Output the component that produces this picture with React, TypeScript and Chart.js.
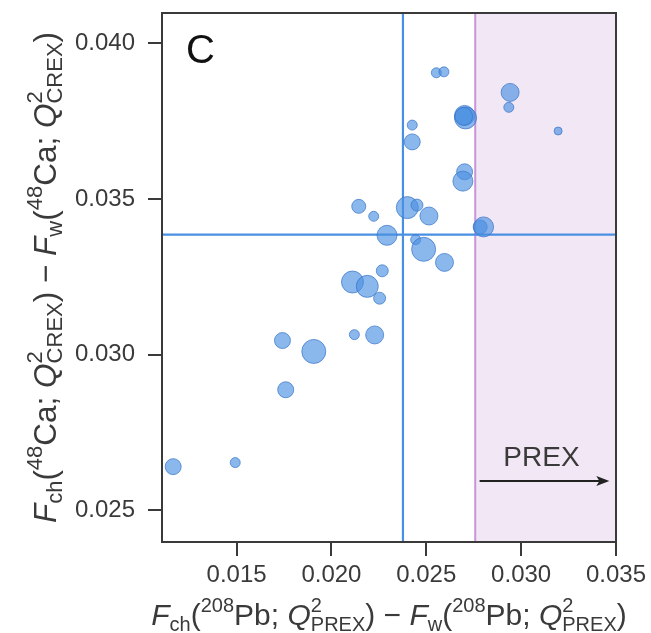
import React, { useEffect, useRef } from "react";
import { Chart, registerables } from "chart.js";

Chart.register(...registerables);

// ---- data ----
const xValues = [
  0.01166, 0.01493, 0.01742, 0.01907, 0.01759, 0.02144, 0.02223, 0.024, 0.02451, 0.02514,
  0.02293, 0.02784, 0.02802, 0.02444, 0.02486, 0.02596, 0.02268, 0.02111, 0.02189, 0.02254,
  0.02121, 0.02228, 0.02553, 0.02593, 0.02702, 0.02707, 0.02697, 0.02426, 0.02426, 0.02702,
  0.02693, 0.02942, 0.02935, 0.03195,
];
const yValues = [
  0.0264, 0.02653, 0.03045, 0.0301, 0.02887, 0.03476, 0.03444, 0.03472, 0.0348, 0.03445,
  0.03383, 0.0341, 0.0341, 0.03369, 0.03338, 0.03296, 0.03269, 0.03233, 0.03219, 0.03181,
  0.03064, 0.03063, 0.03905, 0.03908, 0.03768, 0.0376, 0.03765, 0.03737, 0.03683, 0.03587,
  0.03557, 0.03842, 0.03794, 0.03718,
];
const sizes = [
  8, 5, 8, 12, 8, 7, 5, 11, 6, 9,
  10, 7, 10, 5, 12, 9, 6, 11, 11, 6,
  5, 9, 5, 5, 10, 11, 9, 5, 8, 8,
  10, 9, 5, 4,
];
const xTicks = [0.015, 0.02, 0.025, 0.03, 0.035];
const yTicks = [0.025, 0.03, 0.035, 0.04];
const xMin = 0.01107;
const xMax = 0.035;
const yMin = 0.02398;
const yMax = 0.04097;
const refX = 0.02377;
const refY = 0.03385;
const prexMin = 0.02758;
const panelLabel = "C";
const bandLabel = "PREX";
const bandLabelX = 0.03107;
const bandLabelY = 0.02643;
const arrowFromX = 0.02781;
const arrowToX = 0.03465;
const arrowY = 0.02594;

type Seg = { t: string; k: "n" | "i" | "sub" | "sup" | "ss"; sub?: string };

const xTitle: Seg[] = [
  { t: "F", k: "i" }, { t: "ch", k: "sub" }, { t: "(", k: "n" }, { t: "208", k: "sup" },
  { t: "Pb; ", k: "n" }, { t: "Q", k: "i" }, { t: "2", k: "ss", sub: "PREX" },
  { t: ") \u2212 ", k: "n" }, { t: "F", k: "i" }, { t: "w", k: "sub" }, { t: "(", k: "n" },
  { t: "208", k: "sup" }, { t: "Pb; ", k: "n" }, { t: "Q", k: "i" },
  { t: "2", k: "ss", sub: "PREX" }, { t: ")", k: "n" },
];
const yTitle: Seg[] = [
  { t: "F", k: "i" }, { t: "ch", k: "sub" }, { t: "(", k: "n" }, { t: "48", k: "sup" },
  { t: "Ca; ", k: "n" }, { t: "Q", k: "i" }, { t: "2", k: "ss", sub: "CREX" },
  { t: ") \u2212 ", k: "n" }, { t: "F", k: "i" }, { t: "w", k: "sub" }, { t: "(", k: "n" },
  { t: "48", k: "sup" }, { t: "Ca; ", k: "n" }, { t: "Q", k: "i" },
  { t: "2", k: "ss", sub: "CREX" }, { t: ")", k: "n" },
];

const FAMILY = "'Liberation Sans', Arial, sans-serif";
const TEXT = "#3a3a3a";

function drawRich(
  ctx: CanvasRenderingContext2D,
  segs: Seg[],
  cx: number,
  baseY: number,
  main: number,
  small: number
) {
  const f = (size: number, it: boolean) => `${it ? "italic " : ""}${size}px ${FAMILY}`;
  const items = segs.map((s) => {
    if (s.k === "ss") {
      ctx.font = f(small, false);
      return { s, w: Math.max(ctx.measureText(s.t).width, ctx.measureText(s.sub || "").width) };
    }
    const size = s.k === "sub" || s.k === "sup" ? small : main;
    ctx.font = f(size, s.k === "i");
    return { s, w: ctx.measureText(s.t).width };
  });
  const total = items.reduce((a, b) => a + b.w, 0);
  let x = cx - total / 2;
  ctx.fillStyle = TEXT;
  ctx.textAlign = "left";
  ctx.textBaseline = "alphabetic";
  const supDy = -main * 0.45;
  const subDy = main * 0.2;
  for (const { s, w } of items) {
    if (s.k === "ss") {
      ctx.font = f(small, false);
      ctx.fillText(s.t, x, baseY + supDy);
      ctx.fillText(s.sub || "", x, baseY + subDy);
    } else if (s.k === "sub") {
      ctx.font = f(small, false);
      ctx.fillText(s.t, x, baseY + subDy);
    } else if (s.k === "sup") {
      ctx.font = f(small, false);
      ctx.fillText(s.t, x, baseY + supDy);
    } else {
      ctx.font = f(main, s.k === "i");
      ctx.fillText(s.t, x, baseY);
    }
    x += w;
  }
}

const decor = {
  id: "decor",
  beforeDatasetsDraw(chart: any) {
    const { ctx, chartArea, scales } = chart;
    const { top, bottom, left, right } = chartArea;
    const xs = scales.x;
    const ys = scales.y;
    const px = xs.getPixelForValue(prexMin);
    ctx.save();
    ctx.fillStyle = "#f2e7f5";
    ctx.fillRect(px, top, right - px, bottom - top);
    ctx.strokeStyle = "#c994d8";
    ctx.lineWidth = 2;
    ctx.beginPath();
    ctx.moveTo(px, top);
    ctx.lineTo(px, bottom);
    ctx.stroke();
    ctx.strokeStyle = "#4a90e2";
    ctx.lineWidth = 2.2;
    const vx = xs.getPixelForValue(refX);
    const hy = ys.getPixelForValue(refY);
    ctx.beginPath();
    ctx.moveTo(vx, top);
    ctx.lineTo(vx, bottom);
    ctx.moveTo(left, hy);
    ctx.lineTo(right, hy);
    ctx.stroke();
    ctx.restore();
  },
  afterDatasetsDraw(chart: any) {
    const { ctx, chartArea, scales } = chart;
    const { top, bottom, left, right } = chartArea;
    const xs = scales.x;
    const ys = scales.y;
    ctx.save();
    ctx.strokeStyle = "#3a3a3a";
    ctx.lineWidth = 2;
    ctx.strokeRect(left, top, right - left, bottom - top);
    ctx.fillStyle = "#111";
    ctx.font = `40px ${FAMILY}`;
    ctx.textAlign = "left";
    ctx.textBaseline = "alphabetic";
    ctx.fillText(panelLabel, left + 24, top + 50);
    ctx.fillStyle = TEXT;
    ctx.font = `28px ${FAMILY}`;
    ctx.textAlign = "center";
    ctx.fillText(bandLabel, xs.getPixelForValue(bandLabelX), ys.getPixelForValue(bandLabelY));
    const ax0 = xs.getPixelForValue(arrowFromX);
    const ax1 = xs.getPixelForValue(arrowToX);
    const ay = ys.getPixelForValue(arrowY);
    ctx.strokeStyle = "#222";
    ctx.fillStyle = "#222";
    ctx.lineWidth = 2;
    ctx.beginPath();
    ctx.moveTo(ax0, ay);
    ctx.lineTo(ax1 - 8, ay);
    ctx.stroke();
    ctx.beginPath();
    ctx.moveTo(ax1, ay);
    ctx.lineTo(ax1 - 13, ay - 5);
    ctx.lineTo(ax1 - 10, ay);
    ctx.lineTo(ax1 - 13, ay + 5);
    ctx.closePath();
    ctx.fill();
    ctx.restore();
  },
  afterDraw(chart: any) {
    const { ctx, chartArea } = chart;
    const { top, bottom, left, right } = chartArea;
    ctx.save();
    drawRich(ctx, xTitle, (left + right) / 2, 625, 30, 20);
    ctx.translate(56, (top + bottom) / 2);
    ctx.rotate(-Math.PI / 2);
    drawRich(ctx, yTitle, 0, 0, 31.5, 22);
    ctx.restore();
  },
};

export default function App() {
  const ref = useRef<HTMLCanvasElement>(null);
  useEffect(() => {
    document.body.style.margin = "0";
    const points = xValues.map((x, i) => ({ x, y: yValues[i], r: sizes[i] }));
    const tickFont = { family: FAMILY, size: 24 };
    const chart = new Chart(ref.current as HTMLCanvasElement, {
      type: "bubble",
      data: {
        datasets: [
          {
            data: points,
            backgroundColor: "rgba(74,144,226,0.64)",
            borderColor: "rgba(55,115,200,0.7)",
            borderWidth: 1,
          },
        ],
      },
      options: {
        animation: false,
        responsive: false,
        devicePixelRatio: 1,
        layout: { padding: { top: 13, right: 35, left: 0, bottom: 0 } },
        plugins: { legend: { display: false }, tooltip: { enabled: false } },
        scales: {
          x: {
            type: "linear",
            min: xMin,
            max: xMax,
            afterBuildTicks: (s: any) => {
              s.ticks = xTicks.map((v) => ({ value: v }));
            },
            afterFit: (s: any) => {
              s.height = 91;
              s.paddingLeft = 0;
              s.paddingRight = 0;
              s.paddingTop = 0;
              s.paddingBottom = 0;
            },
            ticks: {
              callback: (v: any) => Number(v).toFixed(3),
              font: tickFont,
              color: TEXT,
              padding: 5,
              maxRotation: 0,
              autoSkip: false,
            },
            grid: {
              display: true,
              drawOnChartArea: false,
              drawTicks: true,
              tickLength: 14,
              color: "#3a3a3a",
              lineWidth: 2,
            },
            border: { display: false },
          },
          y: {
            type: "linear",
            min: yMin,
            max: yMax,
            afterBuildTicks: (s: any) => {
              s.ticks = yTicks.map((v) => ({ value: v }));
            },
            afterFit: (s: any) => {
              s.width = 162;
              s.paddingLeft = 0;
              s.paddingRight = 0;
              s.paddingTop = 0;
              s.paddingBottom = 0;
            },
            ticks: {
              callback: (v: any) => Number(v).toFixed(3),
              font: tickFont,
              color: TEXT,
              padding: 13,
              autoSkip: false,
            },
            grid: {
              display: true,
              drawOnChartArea: false,
              drawTicks: true,
              tickLength: 14,
              color: "#3a3a3a",
              lineWidth: 2,
            },
            border: { display: false },
          },
        },
      },
      plugins: [decor],
    } as any);
    return () => chart.destroy();
  }, []);
  return (
    <div style={{ width: 651, height: 633 }}>
      <canvas ref={ref} width={651} height={633} style={{ display: "block" }} />
    </div>
  );
}
